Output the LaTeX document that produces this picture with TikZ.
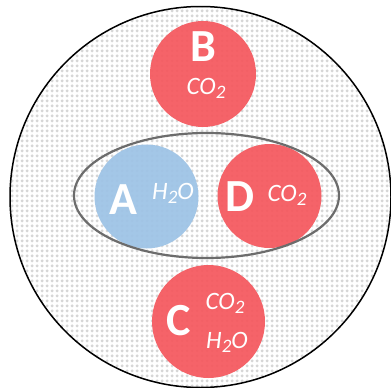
\documentclass[tikz,border=0pt]{standalone}
\usepackage{fontspec}
\setmainfont{Carlito}
\usetikzlibrary{patterns}
\pgfdeclarepatternformonly{mydots}{\pgfpoint{0pt}{0pt}}{\pgfpoint{5pt}{5pt}}{\pgfpoint{5pt}{5pt}}{\pgfpathmoveto{\pgfpoint{2.5pt}{0.6pt}}\pgfpathlineto{\pgfpoint{4.4pt}{2.5pt}}\pgfpathlineto{\pgfpoint{2.5pt}{4.4pt}}\pgfpathlineto{\pgfpoint{0.6pt}{2.5pt}}\pgfpathclose\pgfusepath{fill}}
\definecolor{myred}{RGB}{245,88,94}
\definecolor{myblue}{RGB}{157,195,230}
\definecolor{dotgray}{RGB}{214,214,214}
\newcommand{\chsub}[1]{\raisebox{-0.35ex}{\fontsize{19}{19}\selectfont #1}}
\tikzset{
  ball/.style={circle, inner sep=0pt, fill opacity=0.93},
  letter/.style={text=white, font=\fontsize{46}{46}\selectfont\bfseries, inner sep=0pt},
  chem/.style={text=white, font=\fontsize{25}{25}\selectfont\itshape, inner sep=0pt},
}
\begin{document}
\begin{tikzpicture}[x=1pt,y=-1pt]
\useasboundingbox (0,0) rectangle (391,388);
\fill[white] (0,0) rectangle (391,388);
\node[circle, minimum size=382pt, inner sep=0pt, pattern=mydots, pattern color=dotgray] (outer) at (200.5,197) {};
\draw[line width=1.5pt, black] (outer.center) circle[radius=190.5];
\node[ball, fill=myred, minimum size=106pt] (B) at (203,74) {};
\node[ball, fill=myblue, minimum size=104pt] (A) at (146.5,196.5) {};
\node[ball, fill=myred, minimum size=104pt] (D) at (269.5,196) {};
\node[ball, fill=myred, minimum size=113pt] (C) at (208.5,321.5) {};
\draw[line width=2.2pt, gray!85!black] (206.5,195.5) ellipse[x radius=132.5, y radius=62.5];
\node[letter] (Bl) at (203,47) {B};
\node[chem] (Bc) at (206,88) {CO\chsub{2}};
\node[letter] (Al) at (123.5,199.5) {A};
\node[chem] (Ac) at (173,193) {H\chsub{2}O};
\node[letter] (Dl) at (240,197) {D};
\node[chem] (Dc) at (287,195) {CO\chsub{2}};
\node[letter] (Cl) at (179,321) {C};
\node[chem] (Cc1) at (225,303) {CO\chsub{2}};
\node[chem] (Cc2) at (227,342) {H\chsub{2}O};
\end{tikzpicture}
\end{document}
